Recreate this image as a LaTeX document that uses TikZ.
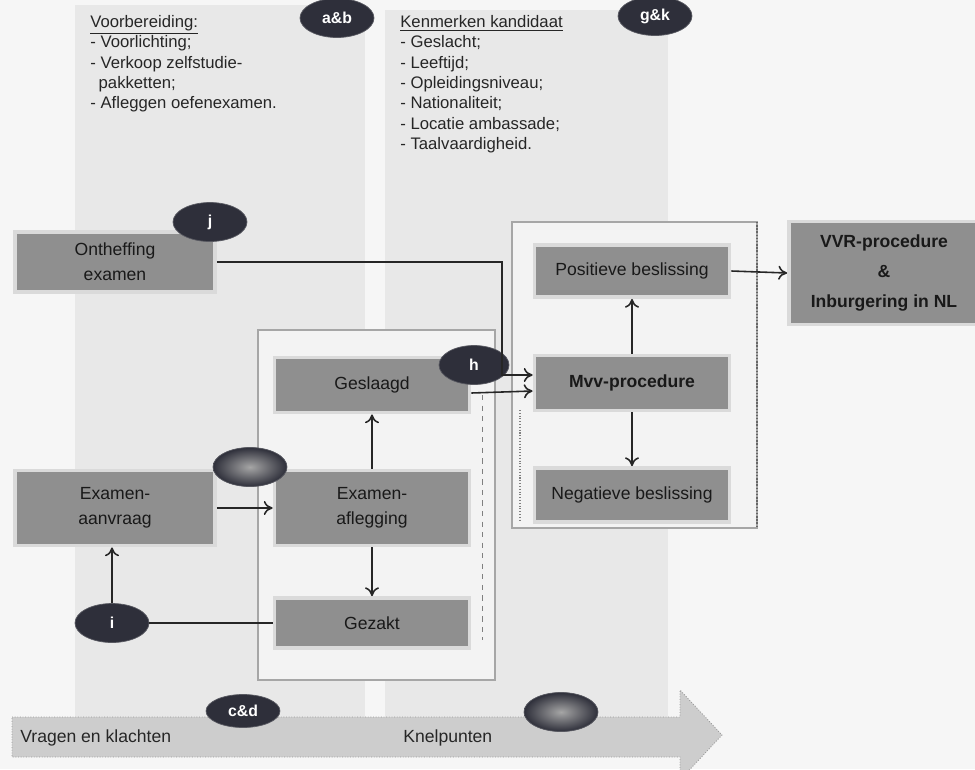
\documentclass[tikz,border=0pt]{standalone}
\usepackage{fontspec}
\setmainfont{Liberation Sans}
\usetikzlibrary{shapes.geometric,arrows.meta}
\definecolor{bgc}{HTML}{F6F6F6}
\definecolor{colc}{HTML}{E8E8E8}
\definecolor{boxc}{HTML}{8F8F8F}
\definecolor{rimc}{HTML}{DADADA}
\definecolor{ellc}{HTML}{2E2F3A}
\definecolor{framec}{HTML}{F3F3F3}
\definecolor{arrc}{HTML}{CDCDCD}
\tikzset{
  x=0.02cm, y=-0.02cm,
  procbox/.style={rectangle, fill=boxc, draw=rimc, line width=2.2pt, align=center,
    font=\fontsize{10}{14}\selectfont, text=black!90, inner sep=2pt},
  tag/.style={ellipse, fill=ellc, draw=ellc!80, minimum width=1.48cm, minimum height=0.78cm,
    text=white, font=\bfseries\fontsize{9}{10}\selectfont, inner sep=0pt},
  blanktag/.style={tag, shading=radial, inner color=gray!70, outer color=ellc},
  arr/.style={-{To[length=5pt,width=8pt]}, line width=0.9pt, black!85},
  plain/.style={line width=0.9pt, black!85},
  listtext/.style={align=left, anchor=north west, font=\fontsize{9.5}{11.6}\selectfont, text=black!85, inner sep=0pt}
}
\begin{document}
\begin{tikzpicture}
\clip (0,0) rectangle (975,769);
\fill[bgc] (0,0) rectangle (975,769);
% columns
\fill[colc] (75,5) rectangle (365,717);
\fill[colc] (385,10) rectangle (668,717);
\fill[black!4] (668,10) rectangle (680,717);
% group frames
\filldraw[fill=framec, draw=black!35, line width=0.6pt] (258,330) rectangle (495,680);
\draw[black!50, dashed, line width=0.5pt] (482,395) -- (482,640);
\filldraw[fill=framec, draw=black!35, line width=0.6pt] (512,222) rectangle (757,528);
\draw[black!60, densely dotted, line width=0.8pt] (757,222) -- (757,528);
\draw[black!50, densely dotted, line width=0.6pt] (520,410) -- (520,520);
% bottom arrow
\filldraw[fill=arrc, draw=black!40, densely dotted, line width=0.5pt]
  (12,717) -- (680,717) -- (680,690) -- (722,735) -- (680,780) -- (680,757) -- (12,757) -- cycle;
\node[anchor=west, font=\fontsize{10}{12}\selectfont, text=black!85, inner sep=0pt] (vragen) at (20,738) {Vragen en klachten};
\node[anchor=west, font=\fontsize{10}{12}\selectfont, text=black!85, inner sep=0pt] (knel) at (403,738) {Knelpunten};
% list texts
\node[listtext] (voorb) at (90,15) {\underline{Voorbereiding:}\\- Voorlichting;\\- Verkoop zelfstudie-\\\hspace*{0.5em}pakketten;\\- Afleggen oefenexamen.};
\node[listtext] (kenm) at (400,15) {\underline{Kenmerken kandidaat}\\- Geslacht;\\- Leeftijd;\\- Opleidingsniveau;\\- Nationaliteit;\\- Locatie ambassade;\\- Taalvaardigheid.};
% boxes
\node[procbox, minimum width=4.0cm, minimum height=1.2cm] (onth) at (115,262) {Ontheffing\\examen};
\node[procbox, minimum width=4.0cm, minimum height=1.5cm] (aanv) at (115,508) {Examen-\\aanvraag};
\node[procbox, minimum width=3.9cm, minimum height=1.1cm] (gesl) at (372,385) {Geslaagd};
\node[procbox, minimum width=3.9cm, minimum height=1.5cm] (afl) at (372,508) {Examen-\\aflegging};
\node[procbox, minimum width=3.9cm, minimum height=1.0cm] (gez) at (372,623) {Gezakt};
\node[procbox, minimum width=3.9cm, minimum height=1.04cm] (pos) at (632,271) {Positieve beslissing};
\node[procbox, minimum width=3.9cm, minimum height=1.1cm, font=\bfseries\fontsize{10}{14}\selectfont] (mvv) at (632,383) {Mvv-procedure};
\node[procbox, minimum width=3.9cm, minimum height=1.08cm] (neg) at (632,495) {Negatieve beslissing};
\node[procbox, minimum width=3.8cm, minimum height=2.06cm, font=\bfseries\fontsize{10}{17}\selectfont] (vvr) at (884,273) {VVR-procedure\\\&\\Inburgering in NL};
% tags
\node[tag] (ab) at (337,18) {a\&b};
\node[tag] (gk) at (655,16) {g\&k};
\node[tag] (j) at (210,222) {j};
\node[tag, minimum width=1.4cm] (h) at (474,365) {h};
\node[blanktag] (ef) at (250,467) {};
\node[tag] (i) at (112,623) {i};
\node[tag, minimum height=0.66cm] (cd) at (243,711) {c\&d};
\node[blanktag] (kn) at (561,712) {};
% connectors
\draw[arr] (onth.east) -- (502,262) |- ([yshift=0.16cm]mvv.west);
\draw[arr] ([yshift=-0.16cm]gesl.east) -- ([yshift=-0.16cm]mvv.west);
\draw[arr] (afl.north) -- (gesl.south);
\draw[arr] (afl.south) -- (gez.north);
\draw[arr] (aanv.east) -- (afl.west);
\draw[arr] (i.north) -- (i.north |- aanv.south);
\draw[plain] (gez.west) -- (i.east);
\draw[arr] (mvv.north) -- (pos.south);
\draw[arr] (mvv.south) -- (neg.north);
\draw[arr] (pos.east) -- (vvr.west);
\end{tikzpicture}
\end{document}
